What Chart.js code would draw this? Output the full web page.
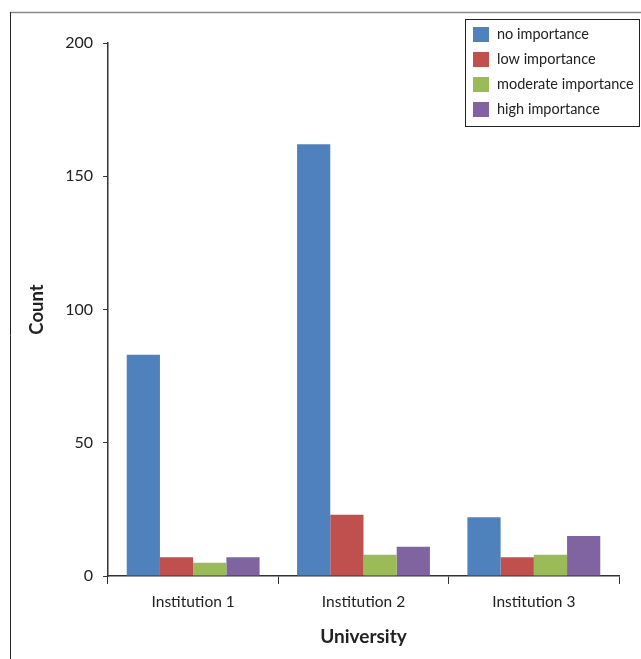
<!DOCTYPE html>
<html><head><meta charset="utf-8">
<script src="https://cdn.jsdelivr.net/npm/chart.js@4.4.1/dist/chart.umd.min.js"></script>
<style>html,body{margin:0;padding:0;background:#fff;}#c{display:block;}</style>
</head><body>
<canvas id="c" width="641" height="659"></canvas>
<script>
const categories = ["Institution 1", "Institution 2", "Institution 3"];
const seriesLabels = ["no importance", "low importance", "moderate importance", "high importance"];
const noImportance = [83, 162, 22];
const lowImportance = [7, 23, 7];
const moderateImportance = [5, 8, 8];
const highImportance = [7, 11, 15];
const colors = ["#4F81BD", "#C0504D", "#9BBB59", "#8064A2"];
const yTicks = [0, 50, 100, 150, 200];

const FONT = "Lato, 'Open Sans', sans-serif";

const frameLegend = {
  id: 'frameLegend',
  afterDraw(chart) {
    const ctx = chart.ctx;
    ctx.save();
    ctx.strokeStyle = '#888';
    ctx.lineWidth = 1.5;
    ctx.beginPath(); ctx.moveTo(10, 12.5); ctx.lineTo(641, 12.5); ctx.stroke();
    ctx.strokeStyle = '#222';
    ctx.lineWidth = 1;
    ctx.beginPath(); ctx.moveTo(10.5, 12); ctx.lineTo(10.5, 659); ctx.stroke();
    ctx.strokeStyle = '#222';
    ctx.strokeRect(465.5, 19.5, 174, 107);
    ctx.font = "14.5px " + FONT;
    ctx.textBaseline = 'middle';
    chart.data.datasets.forEach((ds, i) => {
      const y = 34 + i * 25;
      ctx.fillStyle = ds.backgroundColor;
      ctx.fillRect(473, y - 7, 16, 15);
      ctx.fillStyle = '#222';
      ctx.fillText(ds.label, 497, y);
    });
    ctx.restore();
  }
};

const seriesData = [noImportance, lowImportance, moderateImportance, highImportance];

new Chart(document.getElementById('c'), {
  type: 'bar',
  data: {
    labels: categories,
    datasets: seriesLabels.map((l, i) => ({
      label: l, data: seriesData[i], backgroundColor: colors[i],
      categoryPercentage: 0.78, barPercentage: 1.0, borderWidth: 0
    }))
  },
  options: {
    responsive: false,
    animation: false,
    devicePixelRatio: 1,
    layout: { padding: { top: 43, right: 22, left: 0, bottom: 0 } },
    plugins: { legend: { display: false }, tooltip: { enabled: false } },
    scales: {
      x: {
        afterFit(s) { s.height = 83; },
        grid: { display: true, drawOnChartArea: false, offset: true, tickLength: 8, color: '#333', tickColor: '#333' },
        border: { display: true, color: '#333', width: 1.5 },
        ticks: { font: { family: FONT, size: 15.5 }, color: '#222', padding: 9 },
        title: { display: true, text: 'University', font: { family: FONT, size: 19, weight: 'bold' }, color: '#222', padding: { top: 1, bottom: 11 } }
      },
      y: {
        min: 0, max: 200,
        afterFit(s) { s.width = 108; },
        afterBuildTicks(s) { s.ticks = yTicks.map(v => ({ value: v })); },
        grid: { display: true, drawOnChartArea: false, tickLength: 5, color: '#333', tickColor: '#333' },
        border: { display: true, color: '#333', width: 1.5 },
        ticks: { font: { family: FONT, size: 16 }, color: '#222', padding: 10 },
        title: { display: true, text: 'Count', font: { family: FONT, size: 18.5, weight: 'bold' }, color: '#222', padding: { top: 26, bottom: 0 } }
      }
    }
  },
  plugins: [frameLegend]
});
</script>
</body></html>
